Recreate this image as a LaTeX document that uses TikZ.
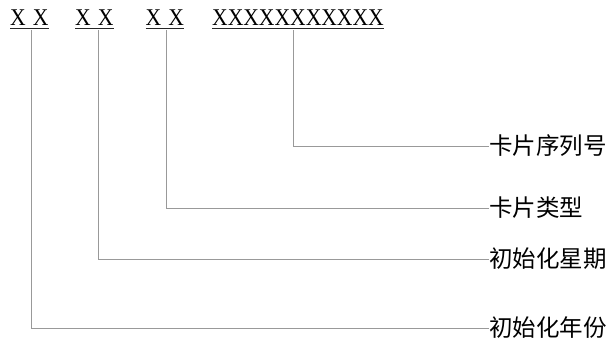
\documentclass[tikz,border=0pt]{standalone}
\usepackage{fontspec}
\setmainfont{Liberation Serif}
\newfontfamily\xfont[FakeStretch=0.9]{Liberation Serif}
\newfontfamily\cjk{Noto Sans CJK SC}
\begin{document}
\begin{tikzpicture}[x=1pt,y=-1pt,
  code/.style={inner sep=0pt, anchor=base west, font=\xfont\fontsize{24}{24}\selectfont},
  lbl/.style={inner sep=0pt, anchor=west, font=\cjk\fontsize{23.5}{23.5}\selectfont},
  uline/.style={line width=0.9pt, black!85},
  conn/.style={line width=0.8pt, black!40}]
\useasboundingbox (0,0) rectangle (611,339);
\node[code] (c1) at (10,26) {X\hspace{7pt}X};
\node[code] (c2) at (75,26) {X\hspace{7pt}X};
\node[code] (c3) at (145.5,26) {X\hspace{7pt}X};
\node[code] (c4) at (212,26) {XXXXXXXXXXX};
\foreach \n in {c1,c2,c3,c4}
  \draw[uline] ([yshift=-2.5pt]\n.south west) -- ([yshift=-2.5pt]\n.south east);
\node[lbl] (l4) at (489,146) {卡片序列号};
\node[lbl] (l3) at (489,208) {卡片类型};
\node[lbl] (l2) at (489,259) {初始化星期};
\node[lbl] (l1) at (489,328) {初始化年份};
\coordinate (s1) at (31.5,30);
\coordinate (s2) at (98,30);
\coordinate (s3) at (166.5,30);
\coordinate (s4) at (293,30);
\draw[conn] (s1) |- (l1.west);
\draw[conn] (s2) |- (l2.west);
\draw[conn] (s3) |- (l3.west);
\draw[conn] (s4) |- (l4.west);
\end{tikzpicture}
\end{document}
